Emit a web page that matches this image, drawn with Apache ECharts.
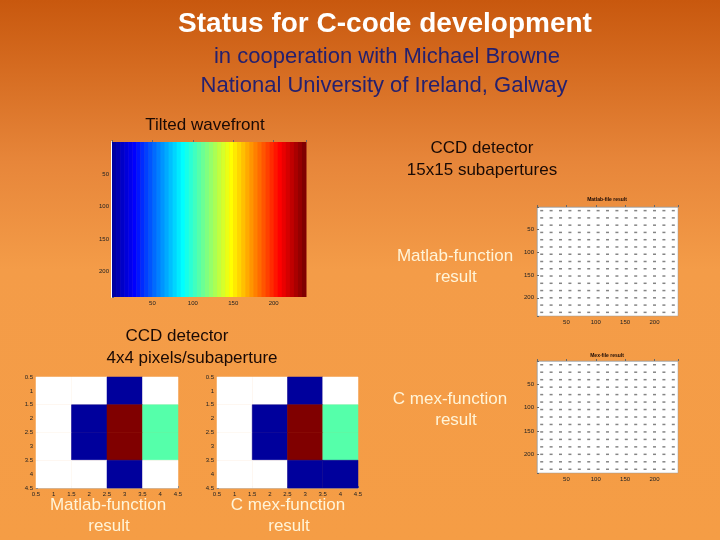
<!DOCTYPE html>
<html>
<head>
<meta charset="utf-8">
<script src="https://cdn.jsdelivr.net/npm/echarts@6/dist/echarts.min.js"></script>
<style>
  html, body { margin: 0; padding: 0; }
  #main { width: 720px; height: 540px; }
</style>
</head>
<body>
<div id="main"></div>
<script>
var waveEdges = [0, 5, 10, 15, 20, 25, 30, 35, 40, 45, 50, 55, 60, 65, 70, 75, 80, 85, 90, 95,
    100, 105, 110, 115, 120, 125, 130, 135, 140, 145, 150, 155, 160, 165, 170, 175, 180, 185, 190, 195,
    200, 205, 210, 215, 220, 225, 230, 235, 240];
var waveLevels = [1, 2, 3, 4, 5, 6, 7, 8, 9, 10, 11, 12, 13, 14, 15, 16, 17, 18, 19, 20,
    21, 22, 23, 24, 25, 26, 27, 28, 29, 30, 31, 32, 33, 34, 35, 36, 37, 38, 39, 40,
    41, 42, 43, 44, 45, 46, 47, 48];

// subaperture centres of the 15x15 CCD grid
var subCentres = [8, 24, 40, 56, 72, 88, 104, 120, 136, 152, 168, 184, 200, 216, 232];

// 4x4 pixel images (rows top to bottom), 0 = empty, 1 = low, 2 = mid, 3 = high
var matlabPixels = [
    [0, 0, 1, 0],
    [0, 1, 3, 2],
    [0, 1, 3, 2],
    [0, 0, 1, 0]
];
var mexPixels = [
    [0, 0, 1, 0],
    [0, 1, 3, 2],
    [0, 1, 3, 2],
    [0, 0, 1, 1]
];
var pixelColors = ['#ffffff', '#00009c', '#55ffaa', '#800000'];

var waveTicks = [50, 100, 150, 200];
var pixelTicks = [0.5, 1, 1.5, 2, 2.5, 3, 3.5, 4, 4.5];

var myChart = echarts.init(document.getElementById('main'));

var waveData = [];
for (var i = 0; i < waveLevels.length; i++) {
    waveData.push([waveEdges[i], waveEdges[i + 1], waveLevels[i]]);
}

var gridPoints = [];
subCentres.forEach(function (y) {
    subCentres.forEach(function (x) {
        gridPoints.push([x, y]);
    });
});

function pixelData(img) {
    var out = [];
    for (var r = 0; r < img.length; r++) {
        for (var c = 0; c < img[r].length; c++) {
            out.push([c + 1, r + 1, img[r][c]]);
        }
    }
    return out;
}

function renderPixel(params, api) {
    var x = api.value(0), y = api.value(1);
    var p0 = api.coord([x - 0.5, y - 0.5]);
    var p1 = api.coord([x + 0.5, y + 0.5]);
    return {
        type: 'rect',
        shape: {
            x: Math.min(p0[0], p1[0]),
            y: Math.min(p0[1], p1[1]),
            width: Math.abs(p1[0] - p0[0]),
            height: Math.abs(p1[1] - p0[1])
        },
        style: { fill: pixelColors[api.value(2)], stroke: pixelColors[api.value(2)], lineWidth: 0.5 }
    };
}

function renderWave(params, api) {
    var p0 = api.coord([api.value(0), 0]);
    var p1 = api.coord([api.value(1), 240]);
    return {
        type: 'rect',
        shape: {
            x: p0[0],
            y: Math.min(p0[1], p1[1]),
            width: p1[0] - p0[0] + 0.5,
            height: Math.abs(p1[1] - p0[1])
        },
        style: { fill: api.visual('color') }
    };
}

var tinyLabel = { fontSize: 6, color: '#222', margin: 3, fontFamily: 'Liberation Sans' };

function waveAxis(idx, inverse, lineColor, lineWidth) {
    return {
        type: 'value', gridIndex: idx, min: 0, max: 240, interval: 50, inverse: inverse,
        axisLine: { show: true, lineStyle: { color: lineColor || '#999', width: lineWidth || 0.5 } },
        axisTick: { show: true, inside: true, length: 2, lineStyle: { color: '#666' } },
        axisLabel: Object.assign({}, tinyLabel, {
            formatter: function (v) { return waveTicks.indexOf(v) >= 0 ? v : ''; }
        }),
        splitLine: { show: false }
    };
}

function pixelAxis(idx, inverse) {
    return {
        type: 'value', gridIndex: idx, min: 0.5, max: 4.5, interval: 0.5, inverse: inverse,
        axisLine: { show: true, lineStyle: { color: '#999', width: 0.5 } },
        axisTick: { show: true, inside: true, length: 2, lineStyle: { color: '#666' } },
        axisLabel: Object.assign({}, tinyLabel, {
            formatter: function (v) { return pixelTicks.indexOf(v) >= 0 ? v : ''; }
        }),
        splitLine: { show: false }
    };
}

function slideText(txt, x, y, color, size, weight) {
    return {
        type: 'text', x: x, y: y,
        style: {
            text: txt, fill: color, font: (weight || 'normal') + ' ' + size + 'px "Liberation Sans", Arial, sans-serif',
            textAlign: 'center', textVerticalAlign: 'middle'
        }
    };
}

var dark = '#1a0a05', cream = '#fff4d8', navy = '#25206e';

var option = {
    backgroundColor: new echarts.graphic.LinearGradient(0, 0, 0, 1, [
        { offset: 0, color: '#c8580e' },
        { offset: 0.3, color: '#e7863a' },
        { offset: 0.5, color: '#f49c48' },
        { offset: 1, color: '#f59d45' }
    ]),
    animation: false,
    grid: [
        { left: 112, top: 142, width: 194, height: 155 },
        { left: 537, top: 207, width: 141, height: 109, show: true, backgroundColor: '#fff', borderColor: '#999', borderWidth: 0.5 },
        { left: 537, top: 361, width: 141, height: 112, show: true, backgroundColor: '#fff', borderColor: '#999', borderWidth: 0.5 },
        { left: 36, top: 377, width: 142, height: 111 },
        { left: 217, top: 377, width: 141, height: 111 }
    ],
    xAxis: [waveAxis(0, false), waveAxis(1, false), waveAxis(2, false), pixelAxis(3, false), pixelAxis(4, false)],
    yAxis: [waveAxis(0, true, '#ffffff', 2), waveAxis(1, true), waveAxis(2, true), pixelAxis(3, true), pixelAxis(4, true)],
    visualMap: {
        show: false, type: 'continuous', seriesIndex: 0, dimension: 2, min: 0, max: 48,
        inRange: { color: ['#00008f', '#0000ff', '#0080ff', '#00ffff', '#80ff80', '#ffff00', '#ff8000', '#ff0000', '#800000'] }
    },
    series: [
        { type: 'custom', xAxisIndex: 0, yAxisIndex: 0, renderItem: renderWave, data: waveData },
        { type: 'scatter', xAxisIndex: 1, yAxisIndex: 1, symbol: 'rect', symbolSize: [3, 1.5], itemStyle: { color: '#666' }, data: gridPoints },
        { type: 'scatter', xAxisIndex: 2, yAxisIndex: 2, symbol: 'rect', symbolSize: [3, 1.5], itemStyle: { color: '#666' }, data: gridPoints },
        { type: 'custom', xAxisIndex: 3, yAxisIndex: 3, renderItem: renderPixel, data: pixelData(matlabPixels) },
        { type: 'custom', xAxisIndex: 4, yAxisIndex: 4, renderItem: renderPixel, data: pixelData(mexPixels) }
    ],
    graphic: [
        slideText('Status for C-code development', 385, 24, '#ffffff', 28, 'bold'),
        slideText('in cooperation with Michael Browne', 387, 57, navy, 22),
        slideText('National University of Ireland, Galway', 384, 86, navy, 22),
        slideText('Tilted wavefront', 205, 125, dark, 17),
        slideText('CCD detector', 482, 148, dark, 17),
        slideText('15x15 subapertures', 482, 170, dark, 17),
        slideText('Matlab-function', 455, 256, cream, 17),
        slideText('result', 456, 277, cream, 17),
        slideText('CCD detector', 177, 336, dark, 17),
        slideText('4x4 pixels/subaperture', 192, 358, dark, 17),
        slideText('C mex-function', 450, 399, cream, 17),
        slideText('result', 456, 420, cream, 17),
        slideText('Matlab-function', 108, 505, cream, 17),
        slideText('result', 109, 526, cream, 17),
        slideText('C mex-function', 288, 505, cream, 17),
        slideText('result', 289, 526, cream, 17),
        slideText('Matlab-file result', 607, 200, dark, 5, 'bold'),
        slideText('Mex-file result', 607, 356, dark, 5, 'bold')
    ]
};

myChart.setOption(option);
</script>
</body>
</html>
